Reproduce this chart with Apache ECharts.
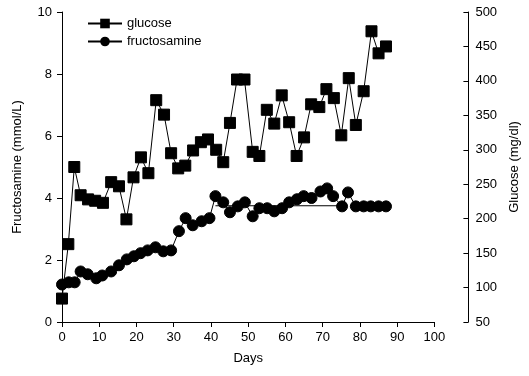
<!DOCTYPE html>
<html>
<head>
<meta charset="utf-8">
<script src="https://cdn.jsdelivr.net/npm/echarts@6/dist/echarts.min.js"></script>
<style>
  html, body { margin: 0; padding: 0; background: #fff; }
  #chart { width: 529px; height: 376px; }
</style>
</head>
<body>
<div id="chart"></div>
<script>
// Glucose readings (mg/dl) by day
const glucoseDays = [0, 1.7, 3.3, 5, 7, 8.9, 11, 13.2, 15.3, 17.3, 19.2, 21.2, 23.2, 25.3, 27.4, 29.3,
  31.2, 33.1, 35.2, 37.3, 39.2, 41.4, 43.3, 45.1, 47, 49, 51.2, 53, 55, 57, 59, 61, 63, 65, 66.9,
  69.1, 71, 73, 75, 77, 78.9, 81, 83.1, 85, 87];
const glucoseValues = [84, 163, 275, 234, 228, 226, 223, 253, 247, 199, 260, 289, 266, 372, 351, 295,
  273, 277, 299, 311, 315, 300, 282, 339, 402, 402, 297, 291, 358, 338, 379, 340, 291, 318, 366,
  362, 388, 375, 321, 404, 336, 385, 472, 440, 450];

// Fructosamine readings (mmol/L) by day
const fructoDays = [0, 1.8, 3.4, 5, 6.9, 9.2, 10.8, 13.2, 15.3, 17.4, 19.3, 21.1, 23, 25.1, 27.2, 29.3,
  31.4, 33.2, 35.1, 37.5, 39.6, 41.2, 43.3, 45.1, 47.2, 49.1, 51.2, 53, 55.1, 57, 59.1, 61, 63.1,
  64.9, 67, 69.4, 71.2, 72.8, 75.2, 76.8, 78.9, 81, 82.9, 85, 87];
const fructoValues = [1.21, 1.28, 1.28, 1.63, 1.54, 1.41, 1.5, 1.63, 1.83, 2.02, 2.12, 2.22, 2.31, 2.41,
  2.28, 2.31, 2.93, 3.35, 3.12, 3.25, 3.35, 4.06, 3.86, 3.54, 3.73, 3.86, 3.41, 3.67, 3.67, 3.57,
  3.67, 3.86, 3.96, 4.06, 4.0, 4.21, 4.31, 4.06, 3.73, 4.18, 3.73, 3.73, 3.73, 3.73, 3.73];

// Plateau level line for fructosamine
const plateauDays = [41.2, 75.2];
const plateauValues = [3.75, 3.75];

const dayTicks = { min: 0, max: 100, interval: 10 };
const fructoTicks = { min: 0, max: 10, interval: 2 };
const glucoseTicks = { min: 50, max: 500, interval: 50 };

const pairs = (xs, ys) => xs.map((x, i) => [x, ys[i]]);
const ink = '#000';
const font = 'Liberation Sans, Arial, sans-serif';

const chart = echarts.init(document.getElementById('chart'), null, { renderer: 'canvas' });
chart.setOption({
  animation: false,
  backgroundColor: '#fff',
  textStyle: { fontFamily: font, color: ink },
  grid: { left: 62, right: 88, top: 12, bottom: 54, containLabel: false },
  legend: {
    left: 82, top: 12, orient: 'vertical', itemGap: 5,
    itemWidth: 34, itemHeight: 12,
    textStyle: { fontFamily: font, fontSize: 13, color: ink },
    data: ['glucose', 'fructosamine']
  },
  xAxis: {
    type: 'value', min: dayTicks.min, max: dayTicks.max, interval: dayTicks.interval,
    name: 'Days', nameLocation: 'middle', nameGap: 30,
    nameTextStyle: { fontFamily: font, fontSize: 13, color: ink },
    axisLine: { lineStyle: { color: ink, width: 1 } },
    axisTick: { show: true, length: 5, lineStyle: { color: ink } },
    axisLabel: { fontSize: 13, color: ink, margin: 9 },
    splitLine: { show: false }
  },
  yAxis: [
    {
      type: 'value', position: 'left', min: fructoTicks.min, max: fructoTicks.max, interval: fructoTicks.interval,
      name: 'Fructosamine (mmol/L)', nameLocation: 'middle', nameGap: 38, nameRotate: 90,
      nameTextStyle: { fontFamily: font, fontSize: 13, color: ink },
      axisLine: { show: true, lineStyle: { color: ink, width: 1 } },
      axisTick: { show: true, length: 5, lineStyle: { color: ink } },
      axisLabel: { fontSize: 13, color: ink, margin: 10 },
      splitLine: { show: false }
    },
    {
      type: 'value', position: 'right', offset: 34,
      min: glucoseTicks.min, max: glucoseTicks.max, interval: glucoseTicks.interval,
      name: 'Glucose (mg/dl)', nameLocation: 'middle', nameGap: 38, nameRotate: 90,
      nameTextStyle: { fontFamily: font, fontSize: 13, color: ink },
      axisLine: { show: true, lineStyle: { color: ink, width: 1 } },
      axisTick: { show: true, inside: true, length: 5, lineStyle: { color: ink } },
      axisLabel: { fontSize: 13, color: ink, margin: 7 },
      splitLine: { show: false }
    }
  ],
  series: [
    {
      name: 'glucose', type: 'line', yAxisIndex: 1,
      data: pairs(glucoseDays, glucoseValues),
      symbol: 'rect', symbolSize: 11,
      lineStyle: { color: ink, width: 1 },
      itemStyle: { color: ink, borderColor: ink },
      z: 3
    },
    {
      name: 'fructosamine', type: 'line', yAxisIndex: 0,
      data: pairs(fructoDays, fructoValues),
      symbol: 'circle', symbolSize: 11,
      lineStyle: { color: ink, width: 1 },
      itemStyle: { color: ink, borderColor: ink },
      z: 3
    },
    {
      name: 'plateau', type: 'line', yAxisIndex: 0,
      data: pairs(plateauDays, plateauValues),
      showSymbol: false, symbol: 'none',
      lineStyle: { color: ink, width: 1 },
      z: 2
    }
  ]
});
</script>
</body>
</html>
